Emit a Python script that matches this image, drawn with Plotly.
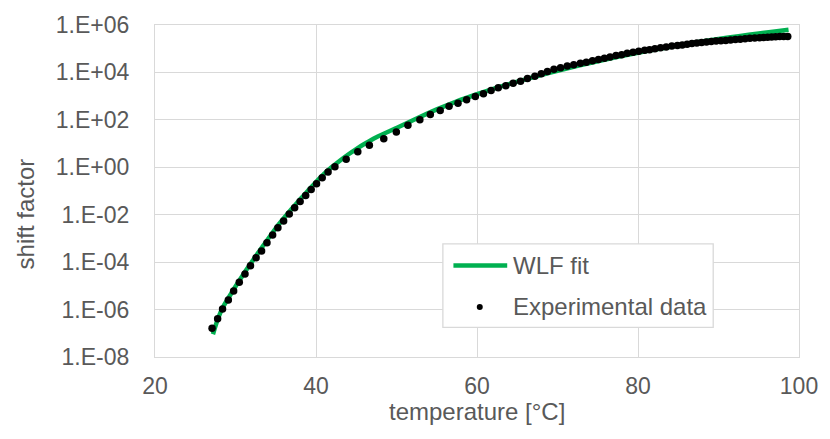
import plotly.graph_objects as go

# Measured shift factors
exp_temp = [27.09, 27.78, 28.39, 29.11, 29.77, 30.47, 31.18, 31.86, 32.56, 33.24,
            33.91, 34.61, 35.27, 35.98, 36.68, 37.35, 38.03, 38.72, 39.40, 40.07,
            40.77, 41.50, 42.35, 43.75, 45.19, 46.63, 48.42, 49.98, 51.42, 52.90,
            54.20, 55.43, 56.53, 57.64, 58.71, 59.79, 60.80, 61.75, 62.64, 63.58,
            64.49, 65.41, 66.27, 67.19, 67.99, 68.75, 69.56, 70.38, 71.21, 72.02,
            72.84, 73.58, 74.35, 75.09, 75.83, 76.53, 77.27, 77.97, 78.66, 79.39,
            80.09, 80.83, 81.44, 82.1, 82.8, 83.5, 84.2, 84.9, 85.5, 86.1,
            86.7, 87.3, 87.9, 88.5, 89.1, 89.7, 90.3, 90.9, 91.5, 92.1,
            92.7, 93.3, 93.9, 94.5, 95.1, 95.6, 96.1, 96.6, 97.1, 97.6,
            98.1, 98.6]
exp_shift = [1.62e-7, 4.07e-7, 1.05e-6, 2.51e-6, 6.03e-6, 1.41e-5, 3.16e-5, 7.08e-5, 1.55e-4, 2.95e-4,
             6.61e-4, 1.38e-3, 2.82e-3, 5.37e-3, 1.07e-2, 1.95e-2, 3.63e-2, 6.46e-2, 1.17e-1, 2.04e-1,
             3.63e-1, 0.631, 1.05, 2.19, 4.47, 8.51, 15.8, 30.9, 58.9, 100,
             170, 251, 372, 501, 708, 977, 1259, 1738, 2239, 2754,
             3467, 4266, 5495, 6918, 8710, 10960, 13490, 15850, 18620, 20890,
             24550, 26920, 30900, 34670, 39810, 44670, 51290, 56230, 64570, 70790,
             77620, 85110, 91200, 1.00e5, 1.10e5, 1.17e5, 1.29e5, 1.38e5, 1.45e5, 1.55e5,
             1.66e5, 1.74e5, 1.82e5, 1.91e5, 2.00e5, 2.09e5, 2.19e5, 2.24e5, 2.34e5, 2.45e5,
             2.51e5, 2.63e5, 2.75e5, 2.82e5, 2.88e5, 2.95e5, 3.02e5, 3.09e5, 3.16e5, 3.24e5,
             3.24e5, 3.31e5]

# WLF fitted curve
fit_temp = [27.2, 27.8, 28.5, 29.5, 30.5, 32.0, 33.5, 35.0, 36.0, 37.0,
            38.0, 39.0, 40.0, 41.0, 42.0, 43.0, 44.0, 45.0, 46.0, 47.5,
            50.0, 52.5, 55.0, 57.5, 60.0, 62.5, 65.0, 67.5, 70.0, 72.5,
            75.0, 77.5, 80.0, 82.5, 85.0, 87.5, 90.0, 92.5, 95.0, 97.5,
            98.7]
fit_shift = [9.12e-8, 3.98e-7, 1.38e-6, 5.01e-6, 1.74e-5, 1.00e-4, 5.25e-4, 2.69e-3, 7.08e-3, 1.78e-2,
             4.37e-2, 0.102, 0.240, 0.525, 1.05, 1.95, 3.47, 5.89, 9.55, 18.6,
             45.7, 115, 275, 603, 1202, 2291, 4074, 7079, 11750, 19050,
             29510, 45710, 67610, 97720, 138000, 190500, 257000, 338800, 436500, 562300,
             631000]

x_ticks = [20, 40, 60, 80, 100]
y_ticks = [1e-8, 1e-6, 1e-4, 1e-2, 1e0, 1e2, 1e4, 1e6]
y_tick_text = ["1.E-08", "1.E-06", "1.E-04", "1.E-02", "1.E+00", "1.E+02", "1.E+04", "1.E+06"]

legend_names = ["WLF fit", "Experimental data"]

GREEN = "#00B050"
TEXT = "#595959"
GRID = "#D9D9D9"
FONT = "Liberation Sans, Arial, sans-serif"

fig = go.Figure()
fig.add_trace(go.Scatter(x=fit_temp, y=fit_shift, mode="lines", name=legend_names[0],
                         line=dict(color=GREEN, width=4.5, shape="spline", smoothing=0.4),
                         showlegend=False))
fig.add_trace(go.Scatter(x=exp_temp, y=exp_shift, mode="markers", name=legend_names[1],
                         marker=dict(color="black", size=7.5),
                         showlegend=False))

# legend box drawn in paper coordinates
fig.add_shape(type="rect", xref="paper", yref="paper", x0=0.447, x1=0.8668, y0=0.0893, y1=0.3405,
              fillcolor="white", line=dict(color=GRID, width=1.3), layer="above")
fig.add_shape(type="line", xref="paper", yref="paper", x0=0.4634, x1=0.5469, y0=0.2759, y1=0.2759,
              line=dict(color=GREEN, width=4.5), layer="above")
fig.add_shape(type="circle", xref="paper", yref="paper", xsizemode="pixel", ysizemode="pixel",
              xanchor=0.5043, yanchor=0.1509, x0=-3, x1=3, y0=-3, y1=3,
              fillcolor="black", line=dict(color="black", width=0), layer="above")
fig.add_annotation(xref="paper", yref="paper", x=0.553, y=0.2759, text=legend_names[0],
                   showarrow=False, xanchor="left", yanchor="middle",
                   font=dict(family=FONT, size=24, color=TEXT))
fig.add_annotation(xref="paper", yref="paper", x=0.553, y=0.1509, text=legend_names[1],
                   showarrow=False, xanchor="left", yanchor="middle",
                   font=dict(family=FONT, size=24, color=TEXT))

# axis titles
fig.add_annotation(xref="paper", yref="paper", x=0.5, y=-0.165, text="temperature [°C]",
                   showarrow=False, xanchor="center", yanchor="middle",
                   font=dict(family=FONT, size=24, color=TEXT))
fig.add_annotation(xref="paper", yref="paper", x=-0.2012, y=0.4307, text="shift factor",
                   showarrow=False, textangle=-90, xanchor="center", yanchor="middle",
                   font=dict(family=FONT, size=24, color=TEXT))

fig.update_xaxes(range=[20, 100], tickvals=x_ticks, showgrid=True, gridcolor=GRID, gridwidth=1.3,
                 showline=True, linecolor=GRID, linewidth=1.3, mirror=True, zeroline=False,
                 ticks="", ticklabelstandoff=8,
                 tickfont=dict(family=FONT, size=23, color=TEXT))
fig.update_yaxes(type="log", range=[-8, 6], tickvals=y_ticks, ticktext=y_tick_text,
                 showgrid=True, gridcolor=GRID, gridwidth=1.3,
                 showline=True, linecolor=GRID, linewidth=1.3, mirror=True, zeroline=False,
                 ticks="", ticklabelstandoff=20,
                 tickfont=dict(family=FONT, size=23, color=TEXT))

fig.update_layout(width=830, height=439, margin=dict(l=155, r=24, t=21, b=82),
                  paper_bgcolor="white", plot_bgcolor="white", showlegend=False)

fig.write_html("out.html")
